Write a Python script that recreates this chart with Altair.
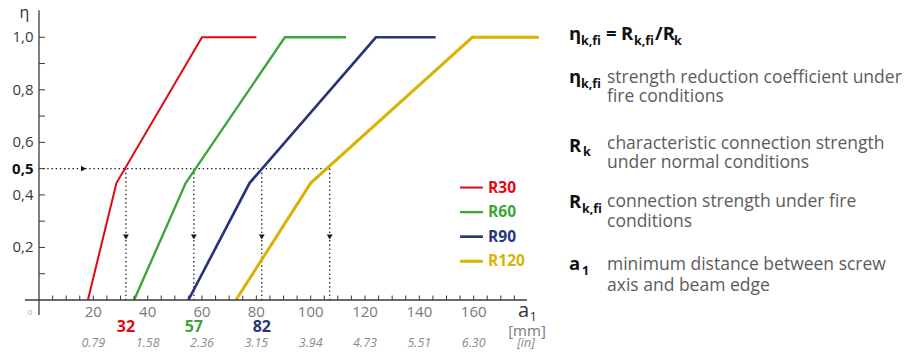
import altair as alt
import pandas as pd

# ---------------- data ----------------
series = ["R30", "R60", "R90", "R120"]
colors = ["#e30613", "#3ca535", "#27347a", "#d9b300"]
r30_mm = [18, 28.5, 60, 80]
r60_mm = [35, 54, 90.5, 113]
r90_mm = [55, 77.5, 124, 146]
r120_mm = [72.5, 100, 159.5, 184]
eta_path = [0, 0.445, 1.0, 1.0]

eta_ref = 0.5
crossing_mm = [32, 57, 82, 107]
crossing_labels = ["32", "57", "82"]

mm_ticks = [20, 40, 60, 80, 100, 120, 140, 160]
mm_labels = ["20", "40", "60", "80", "100", "120", "140", "160"]
inch_labels = ["0.79", "1.58", "2.36", "3.15", "3.94", "4.73", "5.51", "6.30"]
eta_ticks = [0.2, 0.4, 0.5, 0.6, 0.8, 1.0]
eta_tick_labels = ["0,2", "0,4", "0,5", "0,6", "0,8", "1,0"]
eta_minor = [0.1, 0.2, 0.3, 0.4, 0.5, 0.6, 0.7, 0.8, 0.9, 1.0]
mm_minor = list(range(5, 180, 5))

formula_pieces = ["η", "k,fi", "=", "R", "k,fi", "/R", "k"]
desc_symbols = ["η", "R", "R", "a"]
desc_subs = ["k,fi", "k", "k,fi", "1"]
desc_lines = [
    ["strength reduction coefficient under", "fire conditions"],
    ["characteristic connection strength", "under normal conditions"],
    ["connection strength under fire", "conditions"],
    ["minimum distance between screw", "axis and beam edge"],
]

# ---------------- setup ----------------
FONT = "Open Sans"
OX, OY = 39, 11  # page position of plot-area origin
W, H = 489, 289
xscale = alt.Scale(domain=[0, 180], nice=False, zero=False)
yscale = alt.Scale(domain=[0, 1.1], nice=False, zero=False)
cscale = alt.Scale(domain=series, range=colors)
wscale = alt.Scale(domain=series, range=[2, 3, 2, 2])

rows = []
for name, xs in zip(series, [r30_mm, r60_mm, r90_mm, r120_mm]):
    for i, (x, e) in enumerate(zip(xs, eta_path)):
        rows.append({"series": name, "mm": x, "eta": e, "order": i})
lines_df = pd.DataFrame(rows)

dash = [1.4, 2.8]
ink = "#1a1a1a"

lines = alt.Chart(lines_df).mark_line(strokeJoin="miter").encode(
    x=alt.X("mm:Q", scale=xscale, axis=None),
    y=alt.Y("eta:Q", scale=yscale, axis=None),
    color=alt.Color("series:N", scale=cscale, legend=None),
    strokeWidth=alt.StrokeWidth("series:N", scale=wscale, legend=None),
    order="order:Q",
)

# dotted reference lines
h_dot = alt.Chart(pd.DataFrame({"eta": [eta_ref]})).mark_rule(
    strokeDash=dash, color=ink, strokeWidth=1.3).encode(
    x=alt.XDatum(1.5, axis=None), x2=alt.X2Datum(crossing_mm[-1]),
    y=alt.Y("eta:Q", axis=None))
v_dot = alt.Chart(pd.DataFrame({"mm": crossing_mm})).mark_rule(
    strokeDash=dash, color=ink, strokeWidth=1.3).encode(
    x=alt.X("mm:Q", axis=None), y=alt.YDatum(eta_ref, axis=None), y2=alt.Y2Datum(0))
h_arrow = alt.Chart(pd.DataFrame({"eta": [eta_ref]})).mark_point(
    shape="triangle-right", filled=True, size=34, color=ink, opacity=1).encode(
    x=alt.XDatum(16.4, axis=None), y=alt.Y("eta:Q", axis=None))
v_arrow = alt.Chart(pd.DataFrame({"mm": crossing_mm})).mark_point(
    shape="triangle-down", filled=True, size=34, color=ink, opacity=1).encode(
    x=alt.X("mm:Q", axis=None), y=alt.YDatum(0.24, axis=None))

# axis lines & ticks
axis_col = "#3a3a3a"
x_line = alt.Chart(pd.DataFrame({"eta": [0]})).mark_rule(color=axis_col, strokeWidth=1.3).encode(
    x=alt.XDatum(-5.2, axis=None), x2=alt.X2Datum(179.6), y=alt.Y("eta:Q", axis=None))
y_line = alt.Chart(pd.DataFrame({"mm": [0]})).mark_rule(color=axis_col, strokeWidth=1.3).encode(
    x=alt.X("mm:Q", axis=None), y=alt.YDatum(-0.057, axis=None), y2=alt.Y2Datum(1.103))
x_ticks = alt.Chart(pd.DataFrame({"mm": mm_minor})).mark_rule(color=axis_col, strokeWidth=1).encode(
    x=alt.X("mm:Q", axis=None), y=alt.YDatum(0, axis=None), y2=alt.Y2Datum(0.017))
y_ticks = alt.Chart(pd.DataFrame({"eta": eta_minor})).mark_rule(color=axis_col, strokeWidth=1).encode(
    x=alt.XDatum(0, axis=None), x2=alt.X2Datum(2.2), y=alt.Y("eta:Q", axis=None))

# axis tick labels
ylab_df = pd.DataFrame({"eta": eta_ticks, "t": eta_tick_labels})
y_lab = alt.Chart(ylab_df).transform_filter("datum.eta != 0.5").mark_text(
    font=FONT, fontSize=15, color="#3a3a3a", align="right", baseline="middle", dx=-5.5).encode(
    x=alt.XDatum(0, axis=None), y=alt.Y("eta:Q", axis=None), text="t:N")
y_lab_bold = alt.Chart(ylab_df).transform_filter("datum.eta == 0.5").mark_text(
    font=FONT, fontSize=15, fontWeight="bold", color="#111111", align="right",
    baseline="middle", dx=-5.5).encode(
    x=alt.XDatum(0, axis=None), y=alt.Y("eta:Q", axis=None), text="t:N")
x_lab = alt.Chart(pd.DataFrame({"mm": mm_ticks, "t": mm_labels})).mark_text(
    font=FONT, fontSize=15, color="#7a7a7a", baseline="alphabetic", align="center", dy=17.3).encode(
    x=alt.X("mm:Q", axis=None), y=alt.YDatum(0, axis=None), text="t:N")
inch_text = alt.Chart(pd.DataFrame({"mm": mm_ticks, "t": inch_labels})).mark_text(
    font=FONT, fontSize=12.5, fontStyle="italic", color="#8a8a8a",
    baseline="alphabetic", align="center", dy=47).encode(
    x=alt.X("mm:Q", axis=None), y=alt.YDatum(0, axis=None), text="t:N")
cross_df = pd.DataFrame({"mm": crossing_mm[:3], "t": crossing_labels, "series": series[:3]})
cross_text = alt.Chart(cross_df).mark_text(
    font=FONT, fontSize=16, fontWeight="bold", baseline="alphabetic", align="center", dy=31.7).encode(
    x=alt.X("mm:Q", axis=None), y=alt.YDatum(0, axis=None), text="t:N",
    color=alt.Color("series:N", scale=cscale, legend=None))

# legend (drawn)
leg_df = pd.DataFrame({"series": series})
leg_top, leg_step = 0.428, 0.0935
leg_df["leg_eta"] = [leg_top - i * leg_step for i in range(len(series))]
leg_lines = alt.Chart(leg_df).mark_rule().encode(
    x=alt.XDatum(155.0, axis=None), x2=alt.X2Datum(163.4),
    y=alt.Y("leg_eta:Q", axis=None),
    color=alt.Color("series:N", scale=cscale, legend=None),
    strokeWidth=alt.StrokeWidth("series:N", scale=wscale, legend=None))
leg_text = alt.Chart(leg_df).mark_text(
    font=FONT, fontSize=15.5, fontWeight="bold", align="left", baseline="middle").encode(
    x=alt.XDatum(165.3, axis=None), y=alt.Y("leg_eta:Q", axis=None), text="series:N",
    color=alt.Color("series:N", scale=cscale, legend=None))


def txt(s, x, y, size, weight="normal", color="#5c5c5c", style="normal", align="left"):
    return alt.Chart(pd.DataFrame({"t": [s]})).mark_text(
        align=align, baseline="alphabetic", font=FONT, fontSize=size,
        fontWeight=weight, fontStyle=style, color=color).encode(
        text="t:N", x=alt.value(x - OX), y=alt.value(y - OY))


annots = []
# axis titles / units
annots.append(txt("η", 19.5, 18, 16, color="#333333"))
annots.append(txt("0", 30, 315, 8, color="#aaaaaa", align="center"))
annots.append(txt("a", 518, 316.7, 20, color="#333333"))
annots.append(txt("1", 529.5, 320.5, 13, color="#333333"))
annots.append(txt("[mm]", 527, 336, 15, color="#7a7a7a", align="center"))
annots.append(txt("[in]", 526, 347, 12.5, color="#8a8a8a", style="italic", align="center"))

# formula
fx = [569, 581, 606, 621, 634, 655, 674]
fb = [40, 44.5, 40, 40, 44.5, 40, 44.5]
fs = [18.5, 12.5, 18.5, 18.5, 12.5, 18.5, 12.5]
for p, x, b, s in zip(formula_pieces, fx, fb, fs):
    annots.append(txt(p, x, b, s, weight="bold", color="#111111"))

# descriptions
sym_base = [83, 151.7, 208.3, 270]
sub_x = [581, 583, 582, 582]
text_base = [83, 148.5, 206.5, 270]
line_gap = [19, 19, 20.5, 21]
for sym, sub, lines_, sb, sx, tb, g in zip(desc_symbols, desc_subs, desc_lines,
                                         sym_base, sub_x, text_base, line_gap):
    annots.append(txt(sym, 569, sb, 18.5, weight="bold", color="#111111"))
    annots.append(txt(sub, sx, sb + 4.7, 12.5, weight="bold", color="#111111"))
    for k, ln in enumerate(lines_):
        annots.append(txt(ln, 607, tb + k * g, 17.5))

chart = alt.layer(
    h_dot, v_dot, h_arrow, v_arrow,
    lines,
    x_line, y_line, x_ticks, y_ticks,
    y_lab, y_lab_bold, x_lab,
    inch_text, cross_text, leg_lines, leg_text,
    *annots,
).properties(
    width=W, height=H,
    padding={"left": OX - 8, "top": OY - 8, "right": 385, "bottom": 50},
    autosize=alt.AutoSizeParams(type="none"),
    background="white",
).configure_view(stroke=None)

chart.save("out.html", embed_options={"renderer": "svg", "actions": False})
